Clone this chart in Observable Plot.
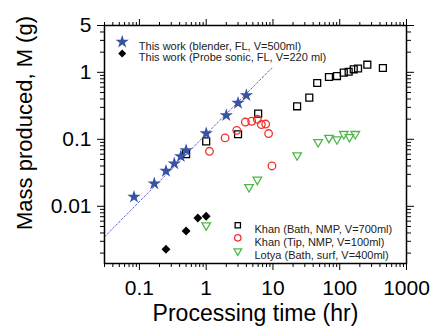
<!DOCTYPE html>
<html><head><meta charset="utf-8">
<script src="https://cdn.jsdelivr.net/npm/d3@7"></script>
<script src="https://cdn.jsdelivr.net/npm/@observablehq/plot@0.6"></script>
<style>body{margin:0;background:#fff;}</style>
</head><body><div id="chart"></div>
<script>
// --- data ---
const blenderX = [0.083, 0.167, 0.25, 0.333, 0.417, 0.5, 1, 2, 3, 4];
const blenderY = [0.0138, 0.0218, 0.0336, 0.0434, 0.0557, 0.0685, 0.122, 0.228, 0.348, 0.454];
const probeX = [0.25, 0.5, 0.75, 1];
const probeY = [0.00228, 0.00428, 0.00668, 0.0071];
const khanBathX = [0.5, 1, 3, 6, 23, 35, 46, 69, 91, 115, 136, 162, 188, 259, 443];
const khanBathY = [0.06, 0.093, 0.119, 0.242, 0.311, 0.419, 0.693, 0.851, 0.88, 0.99, 1.02, 1.11, 1.14, 1.30, 1.16];
const khanTipX = [1.12, 1.92, 2.87, 3.86, 4.8, 5.83, 6.7, 7.78, 8.6, 9.67];
const khanTipY = [0.0662, 0.105, 0.136, 0.181, 0.186, 0.199, 0.166, 0.169, 0.122, 0.04];
const lotyaX = [1, 4.38, 5.83, 23, 47.5, 69, 91, 115, 140, 171];
const lotyaY = [0.0052, 0.0194, 0.025, 0.0577, 0.091, 0.105, 0.1, 0.12, 0.108, 0.12];
const guideX = [0.03, 9.6];
const guideY = [0.0035, 1.16];

const xTicks = [0.1, 1, 10, 100, 1000];
const yTicks = [0.01, 0.1, 1, 5];
const xTitle = "Processing time (hr)";
const yTitle = "Mass produced, M (g)";
const legendTop = ["This work (blender, FL, V=500ml)", "This work (Probe sonic, FL, V=220 ml)"];
const legendBottom = ["Khan (Bath, NMP, V=700ml)", "Khan (Tip, NMP, V=100ml)", "Lotya (Bath, surf, V=400ml)"];

const zip = (xs, ys) => xs.map((x, i) => ({x, y: ys[i]}));

function minorTicks(lo, hi, majors) {
  const out = [];
  for (let e = -4; e <= 3; e++) for (let k = 1; k <= 9; k++) {
    const v = +(k * Math.pow(10, e)).toPrecision(6);
    if (v >= lo && v <= hi && !majors.includes(v)) out.push(v);
  }
  return out;
}
const xDomain = [0.03, 1000], yDomain = [0.0014, 5];
const xMinor = minorTicks(xDomain[0], xDomain[1], xTicks);
const yMinor = minorTicks(yDomain[0], yDomain[1], yTicks);

const BLUE = "#3953a4", RED = "#f0302a", GREEN = "#4db848";
const FONT = "'Liberation Sans', Arial, sans-serif";
const fmt = d => String(d);
const none = () => "";

const legendDot = (dx, dy, opts) => Plot.dot([0], {frameAnchor: "top-left", dx, dy, ...opts});
const legendText = (t, dx, dy) => Plot.text([t], {frameAnchor: "top-left", dx, dy, textAnchor: "start", fontSize: 11, fill: "#222"});

const chart = Plot.plot({
  width: 433, height: 336,
  marginLeft: 104, marginRight: 27, marginTop: 25, marginBottom: 73,
  style: {fontFamily: FONT, color: "black", background: "white"},
  x: {type: "log", domain: xDomain},
  y: {type: "log", domain: yDomain},
  marks: [
    Plot.axisX({ticks: xTicks, tickSize: 7, tickPadding: 10, fontSize: 21, tickFormat: fmt, label: null}),
    Plot.axisX({ticks: xMinor, tickSize: 4, tickFormat: none, label: null}),
    Plot.axisX({anchor: "top", ticks: xTicks, tickSize: 7, tickFormat: none, label: null}),
    Plot.axisX({anchor: "top", ticks: xMinor, tickSize: 4, tickFormat: none, label: null}),
    Plot.axisY({ticks: yTicks, tickSize: 7, tickFormat: none, label: null}),
    Plot.axisY({ticks: yMinor, tickSize: 4, tickFormat: none, label: null}),
    Plot.axisY({anchor: "right", ticks: yTicks, tickSize: 7, tickFormat: none, label: null}),
    Plot.axisY({anchor: "right", ticks: yMinor, tickSize: 4, tickFormat: none, label: null}),
    Plot.text(yTicks, {y: d => d, text: fmt, frameAnchor: "left", dx: -13, textAnchor: "end", fontSize: 21, fill: "black"}),
    Plot.text([xTitle], {frameAnchor: "bottom", dy: 57, fontSize: 23}),
    Plot.line(zip(guideX, guideY), {x: "x", y: "y", stroke: "#5a6ad8", strokeWidth: 1, strokeDasharray: "2,2"}),
    Plot.dot(zip(khanBathX, khanBathY), {x: "x", y: "y", symbol: "square", r: 3.9, stroke: "black", strokeWidth: 1.3, fill: "none"}),
    Plot.dot(zip(khanTipX, khanTipY), {x: "x", y: "y", symbol: "circle", r: 3.8, stroke: RED, strokeWidth: 1.3, fill: "none"}),
    Plot.dot(zip(lotyaX, lotyaY), {x: "x", y: "y", symbol: "triangle", r: 3.2, rotate: 180, stroke: GREEN, strokeWidth: 1.3, fill: "none"}),
    Plot.dot(zip(probeX, probeY), {x: "x", y: "y", symbol: "diamond2", r: 4, fill: "black"}),
    Plot.dot(zip(blenderX, blenderY), {x: "x", y: "y", symbol: "star", r: 4.2, fill: BLUE}),
    // legends
    legendDot(17.7, 16.3, {symbol: "star", r: 4.2, fill: BLUE}),
    legendText(legendTop[0], 34.3, 16.3),
    legendDot(17.7, 28, {symbol: "diamond2", r: 3.6, fill: "black"}),
    legendText(legendTop[1], 34.3, 28),
    legendDot(133.3, 199.7, {symbol: "square", r: 3, stroke: "black", strokeWidth: 1.3, fill: "none"}),
    legendText(legendBottom[0], 150, 199.7),
    legendDot(133.3, 212.3, {symbol: "circle", r: 3.2, stroke: RED, strokeWidth: 1.3, fill: "none"}),
    legendText(legendBottom[1], 150, 212.3),
    legendDot(133.3, 225.5, {symbol: "triangle", r: 2.8, rotate: 180, stroke: GREEN, strokeWidth: 1.3, fill: "none"}),
    legendText(legendBottom[2], 150, 226),
    Plot.frame({stroke: "black", strokeWidth: 1.5})
  ]
});
// y-axis title (rotated), placed beside the frame
d3.select(chart).append("text")
  .attr("transform", "translate(24,123) rotate(-90)")
  .attr("text-anchor", "middle")
  .attr("dy", "0.35em")
  .attr("font-size", 22)
  .attr("font-family", FONT)
  .attr("fill", "black")
  .text(yTitle);
document.getElementById("chart").appendChild(chart);
</script></body></html>
